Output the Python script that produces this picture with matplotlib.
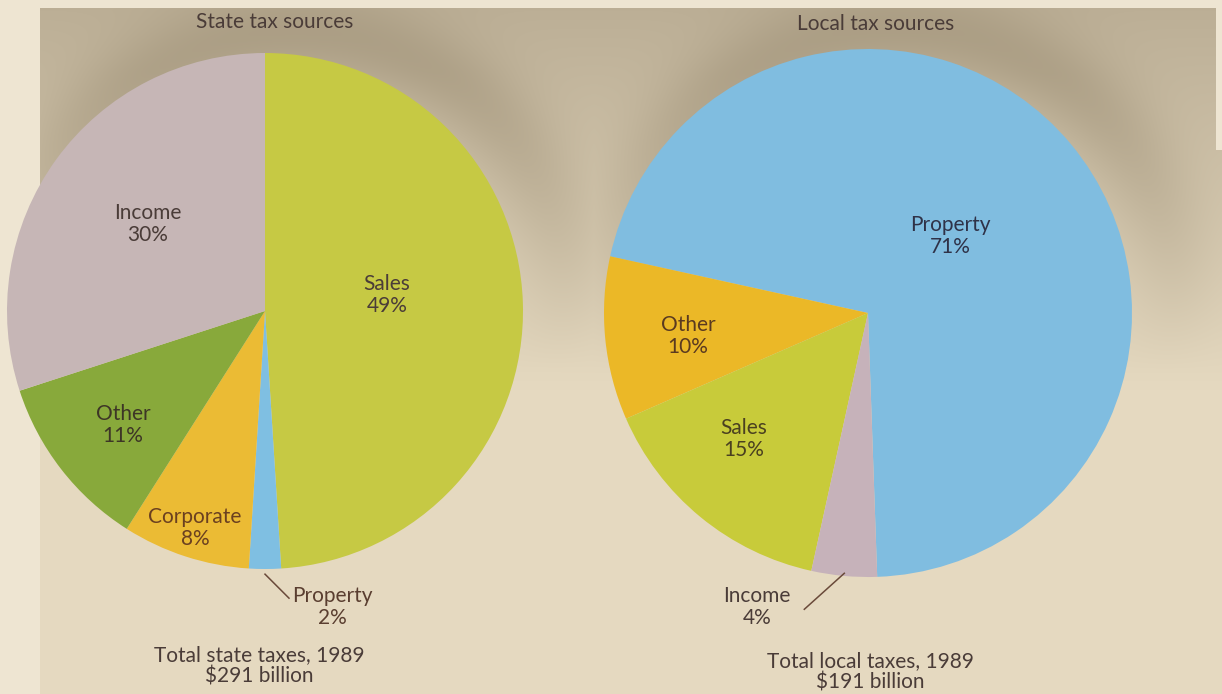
import numpy as np
import matplotlib.pyplot as plt

# State tax sources, 1989 (percent of total)
state_labels = ['Sales', 'Property', 'Corporate', 'Other', 'Income']
state_values = [49, 2, 8, 11, 30]
state_colors = ['#c6c944', '#7fbfe2', '#ebbb34', '#88a93b', '#c6b6b6']
state_total = 291

# Local tax sources, 1989 (percent of total)
local_labels = ['Property', 'Other', 'Sales', 'Income']
local_values = [71, 10, 15, 4]
local_colors = ['#80bde0', '#ebb827', '#c8cb3a', '#c6b2ba']
local_total = 191

W, H = 1222, 694
fig = plt.figure(figsize=(W / 100, H / 100), dpi=100)
ax = fig.add_axes([0, 0, 1, 1])

# pie geometry in pixel units (y measured upward)
state_c, state_r = (265, H - 311), 258
local_c, local_r = (868, H - 313), 264

# paper: darker toward the top, soft shadow rings behind the pies
yy, xx = np.mgrid[0:H, 0:W]
ypix = yy.astype(float)
yy = H - yy
top_col = np.array([188, 175, 150], float) / 255
bot_col = np.array([229, 217, 192], float) / 255
t = np.clip((ypix - 10) / 380, 0, 1)[..., None]
img = top_col * (1 - t) + bot_col * t
shade = np.array([150, 136, 110], float) / 255
s = np.zeros((H, W))
for (cx, cy), r in [(state_c, state_r), (local_c, local_r)]:
    scx, scy = cx + 30, cy + 10
    d = np.hypot(xx - scx, yy - scy)
    ring = np.exp(-((d - r - 10) / 45) ** 2)
    top = np.clip((yy - (cy - 60)) / 300, 0, 1)
    s = np.maximum(s, 0.45 * ring * top)
img = img * (1 - s[..., None]) + shade * s[..., None]
frame = np.array([238, 229, 210], float) / 255
border = (xx < 40) | (ypix < 8) | ((xx > 1215) & (ypix < 150))
img[border] = frame
ax.imshow(img, extent=(0, W, 0, H), origin='upper', zorder=0)

wedges_s, _ = ax.pie(state_values, colors=state_colors, startangle=90,
                     counterclock=False, center=state_c, radius=state_r,
                     wedgeprops=dict(linewidth=0))
wedges_l, _ = ax.pie(local_values, colors=local_colors, startangle=-88,
                     counterclock=True, center=local_c, radius=local_r,
                     wedgeprops=dict(linewidth=0))
for w in wedges_s + wedges_l:
    w.set_zorder(2)

ax.set_xlim(0, W)
ax.set_ylim(0, H)
ax.set_aspect('equal')
ax.axis('off')

txt = dict(family=['Lato', 'DejaVu Sans'], fontsize=15, color='#4a3c38',
           ha='center', va='center', linespacing=1.12, zorder=5)

# label positions in pixels (x, y from top)
state_pos = {'Sales': (387, 295), 'Corporate': (195, 528), 'Other': (123, 425),
             'Income': (148, 224)}
local_pos = {'Property': (950, 236), 'Other': (688, 336), 'Sales': (744, 439)}
label_col = {'Property': '#2f3248', 'Other': '#3d3526'}

for name, val in zip(state_labels, state_values):
    if name in state_pos:
        x, y = state_pos[name]
        c = '#6a4020' if name == 'Corporate' else label_col.get(name, '#4a3c38')
        ax.text(x, H - y, f'{name}\n{val}%', **{**txt, 'color': c})
for name, val in zip(local_labels, local_values):
    if name in local_pos:
        x, y = local_pos[name]
        c = '#5a3a20' if name == 'Other' else label_col.get(name, '#4a3c38')
        if name == 'Sales':
            c = '#4a4020'
        ax.text(x, H - y, f'{name}\n{val}%', **{**txt, 'color': c})


def rim_point(w, c, r, k=1.0):
    a = np.deg2rad((w.theta1 + w.theta2) / 2)
    return c[0] + k * r * np.cos(a), c[1] + k * r * np.sin(a)


# leader lines for the thin slices
i = state_labels.index('Property')
x0, y0 = rim_point(wedges_s[i], state_c, state_r, 1.02)
ax.plot([x0, x0 + 24], [y0, y0 - 24], color='#6a4a3a', lw=1.1, zorder=4)
ax.text(x0 + 67, y0 - 33, f'Property\n{state_values[i]}%',
        **{**txt, 'color': '#5a3e30'})

i = local_labels.index('Income')
x0, y0 = rim_point(wedges_l[i], local_c, local_r, 0.99)
ax.plot([x0, x0 - 40], [y0, y0 - 36], color='#6a4a3a', lw=1.1, zorder=4)
ax.text(x0 - 87, y0 - 34, f'Income\n{local_values[i]}%', **txt)

# titles and totals
ax.text(275, H - 22, 'State tax sources', **txt)
ax.text(876, H - 24, 'Local tax sources', **txt)
ax.text(259, H - 666, f'Total state taxes, 1989\n${state_total} billion', **txt)
ax.text(870, H - 672, f'Total local taxes, 1989\n${local_total} billion', **txt)

fig.savefig('out.png', dpi=100)
